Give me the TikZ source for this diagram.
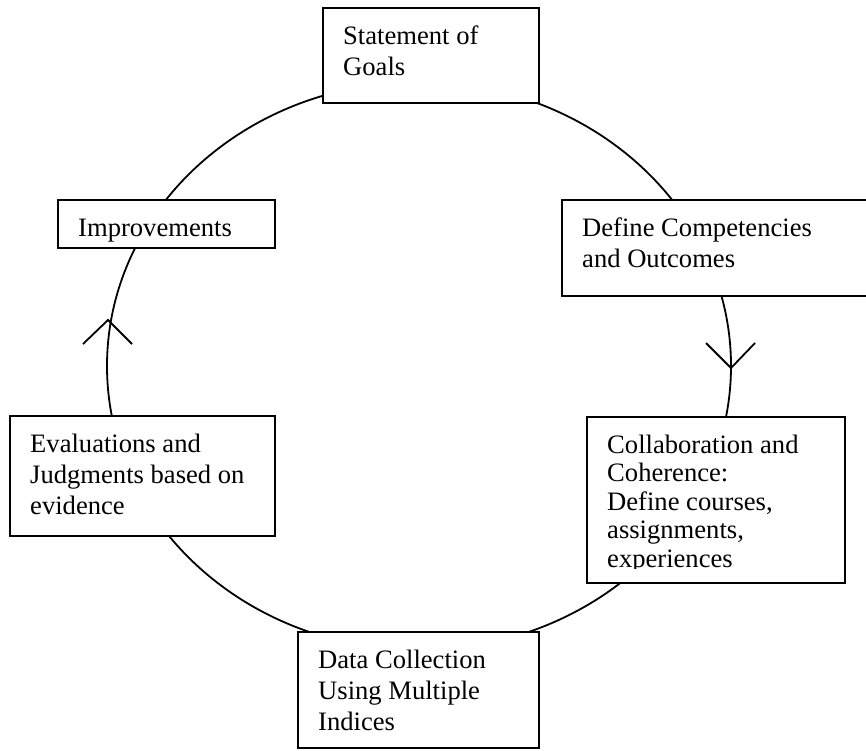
\documentclass[tikz,border=0pt]{standalone}
\usepackage{fontspec}
\setmainfont{Liberation Serif}
\tikzset{
  stage/.style={draw, line width=1.8pt, fill=white, inner sep=0pt, outer sep=0pt, anchor=north west},
  stagetext/.style={anchor=north west, inner sep=0pt, align=left, font=\fontsize{26.6}{31}\selectfont},
  loopline/.style={line width=1.8pt}
}
\begin{document}
\begin{tikzpicture}[x=1pt,y=-1pt]
    \useasboundingbox (0,0) rectangle (866,751);

    % Cycle
    \coordinate (centre) at (419,366);
    \draw[loopline] (centre) ellipse [x radius=312pt, y radius=284pt];

    % Arrow heads
    \coordinate (uptip) at (108,320);
    \coordinate (downtip) at (731,368);
    \draw[loopline] ([shift={(-25,24)}]uptip) -- (uptip) -- ([shift={(24,24)}]uptip);
    \draw[loopline] ([shift={(-25,-25)}]downtip) -- (downtip) -- ([shift={(24,-25)}]downtip);

    % Boxes
    \node[stage, minimum width=216pt, minimum height=95pt] (goals) at (323,8) {};
    \node[stage, minimum width=320pt, minimum height=96pt] (define) at (562,200) {};
    \node[stage, minimum width=217pt, minimum height=48pt] (improve) at (58,200) {};
    \node[stage, minimum width=258pt, minimum height=166pt] (collab) at (587,417) {};
    \node[stage, minimum width=265pt, minimum height=120pt] (evals) at (10,416) {};
    \node[stage, minimum width=241pt, minimum height=116pt] (data) at (298,632) {};

    % Text
    \node[stagetext] (goalstext) at ([shift={(20,14.3)}]goals.north west) {\strut Statement of\\Goals};
    \node[stagetext] (definetext) at ([shift={(20,14.3)}]define.north west) {\strut Define Competencies\\and Outcomes};
    \node[stagetext] (improvetext) at ([shift={(20,14.3)}]improve.north west) {\strut Improvements};
    \node[stagetext] (evalstext) at ([shift={(20,14.3)}]evals.north west) {\strut Evaluations and\\Judgments based on\\evidence};
    \node[stagetext] (datatext) at ([shift={(20,14.3)}]data.north west) {\strut Data Collection\\Using Multiple\\Indices};
    \begin{scope}
      \clip (collab.north west) rectangle ([yshift=15pt]collab.south east);
      \node[stagetext, font=\fontsize{26.6}{28.5}\selectfont] (collabtext) at ([shift={(20,16)}]collab.north west)
        {\strut Collaboration and\\Coherence:\\Define courses,\\assignments,\\experiences};
    \end{scope}

\end{tikzpicture}
\end{document}
